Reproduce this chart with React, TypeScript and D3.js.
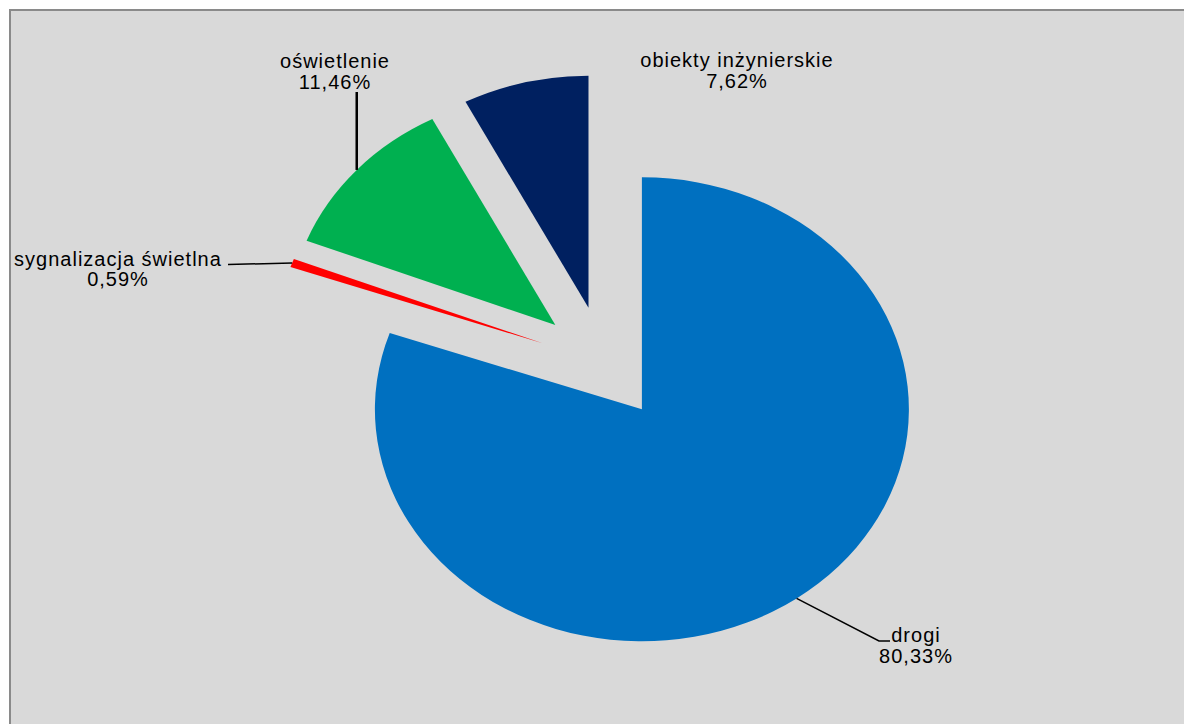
import React from "react";
import * as d3 from "d3";

const categories = ["drogi", "sygnalizacja świetlna", "oświetlenie", "obiekty inżynierskie"];
const values = [80.33, 0.59, 11.46, 7.62];
const valueLabels = ["80,33%", "0,59%", "11,46%", "7,62%"];
const colors = ["#0070C0", "#FF0000", "#00B050", "#002060"];

const W = 1184;
const H = 724;
const CX = 604;
const CY = 363;
const RY = 232;
const RX = 267;
const EXPLODE = 0.245;

// label layout: [x center, baseline line1, baseline line2]
const labelPos = [
  { x: 916, y1: 642, y2: 663 },
  { x: 118, y1: 266, y2: 286 },
  { x: 335, y1: 68, y2: 89 },
  { x: 737, y1: 67, y2: 88 },
];

export default function App() {
  const pie = d3.pie<number>().sort(null).value((d) => d).startAngle(0).endAngle(2 * Math.PI);
  const arcs = pie(values);
  const arcGen = d3.arc<d3.PieArcDatum<number>>().innerRadius(0).outerRadius(RY);
  const sx = RX / RY;

  const slices = arcs.map((a, i) => {
    const mid = (a.startAngle + a.endAngle) / 2;
    const vx = CX + EXPLODE * RX * Math.sin(mid);
    const vy = CY - EXPLODE * RY * Math.cos(mid);
    const ex = vx + RX * Math.sin(mid);
    const ey = vy - RY * Math.cos(mid);
    return { a, i, mid, vx, vy, ex, ey };
  });

  const font = "'Liberation Sans', Arial, sans-serif";
  const textStyle = { fontFamily: font, fontSize: 20, letterSpacing: 1, fill: "#000" } as const;

  const d = slices[0];
  const s = slices[1];
  const o = slices[2];

  return (
    <svg width={W} height={H} style={{ position: "absolute", left: 0, top: 0 }}>
      <rect x={0} y={0} width={W} height={H} fill="#ffffff" />
      <rect x={10} y={10} width={1300} height={900} fill="#D9D9D9" stroke="#8a8a8a" strokeWidth={2} />
      {slices.map((sl) => (
        <path
          key={sl.i}
          d={arcGen(sl.a) || ""}
          fill={colors[sl.i]}
          transform={`translate(${sl.vx},${sl.vy}) scale(${sx},1)`}
        />
      ))}
      {/* leader lines */}
      <polyline
        points={`${d.ex},${d.ey} ${879},${641} ${890},${641}`}
        fill="none"
        stroke="#000"
        strokeWidth={1.5}
      />
      <polyline points={`${s.ex},${s.ey} ${228},${264.5}`} fill="none" stroke="#000" strokeWidth={1.5} />
      <polyline points={`${o.ex},${o.ey} ${o.ex},${92}`} fill="none" stroke="#000" strokeWidth={2.5} />
      {categories.map((c, i) => (
        <g key={c}>
          <text x={labelPos[i].x} y={labelPos[i].y1} textAnchor="middle" style={textStyle}>
            {c}
          </text>
          <text x={labelPos[i].x} y={labelPos[i].y2} textAnchor="middle" style={textStyle}>
            {valueLabels[i]}
          </text>
        </g>
      ))}
    </svg>
  );
}
